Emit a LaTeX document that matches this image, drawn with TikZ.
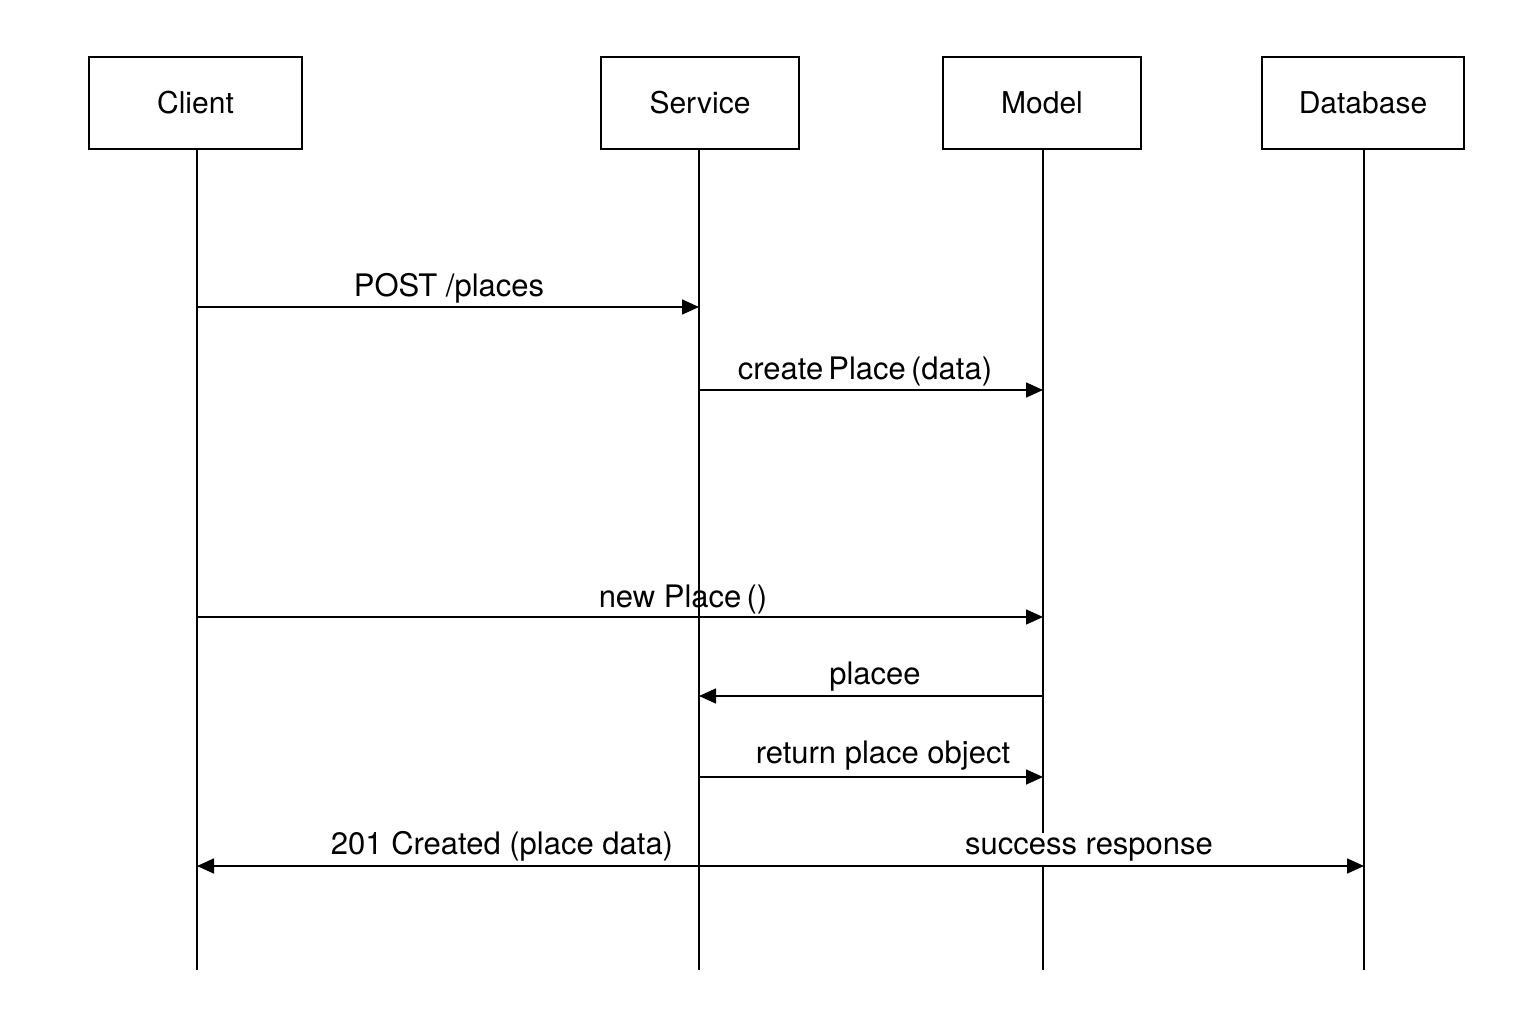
\documentclass[tikz,border=0pt]{standalone}
\usepackage{fontspec}
\setmainfont{TeX Gyre Heros}
\usetikzlibrary{arrows.meta}
\begin{document}
\begin{tikzpicture}[x=1pt,y=-1pt,
  actor/.style={draw,line width=1.6pt,minimum height=92pt,inner sep=0pt,font=\fontsize{30}{33}\selectfont},
  life/.style={line width=1.6pt},
  msg/.style={line width=1.6pt,-{Triangle[length=17pt,width=15pt]}},
  lbl/.style={font=\fontsize{31}{34}\selectfont,inner sep=0pt}]
\useasboundingbox (0,0) rectangle (1536,1024);
\node[actor,minimum width=213pt] (client) at (195.5,103) {Client};
\node[actor,minimum width=198pt] (service) at (700,103) {Service};
\node[actor,minimum width=198pt] (model) at (1042,103) {Model};
\node[actor,minimum width=202pt] (db) at (1363,103) {Database};
\coordinate (clientend) at (197,970);
\coordinate (serviceend) at (699,970);
\coordinate (modelend) at (1043,970);
\coordinate (dbend) at (1364,970);
\draw[life] (client.south -| clientend) -- (clientend);
\draw[life] (service.south -| serviceend) -- (serviceend);
\draw[life] (model.south -| modelend) -- (modelend);
\draw[life] (db.south -| dbend) -- (dbend);
% message points
\coordinate (c1) at (197,307); \coordinate (s1) at (699,307);
\coordinate (s2) at (699,390); \coordinate (m2) at (1043,390);
\coordinate (c3) at (197,617); \coordinate (m3) at (1043,617);
\coordinate (m4) at (1043,696); \coordinate (s4) at (699,696);
\coordinate (s5) at (699,777); \coordinate (m5) at (1043,777);
\coordinate (c6) at (197,866); \coordinate (d6) at (1364,866);
\node[lbl,fill=white,inner ysep=5pt] (l7) at (1089,850) {success response};
\draw[msg] (c1) -- (s1);
\node[lbl] (l1) at (449,288) {POST /places};
\draw[msg] (s2) -- (m2);
\node[lbl] (l2) at (865,371) {create\,Place\,(data)};
\draw[msg] (c3) -- (m3);
\node[lbl] (l3) at (683,599) {new Place\,()};
\draw[msg] (m4) -- (s4);
\node[lbl] (l4) at (875,677) {placee};
\draw[msg] (s5) -- (m5);
\node[lbl] (l5) at (883,756) {return place object};
\draw[msg,{Triangle[length=17pt,width=15pt]}-{Triangle[length=17pt,width=15pt]}] (c6) -- (d6);
\node[lbl] (l6) at (502,846) {201 Created (place data)};
\end{tikzpicture}
\end{document}
